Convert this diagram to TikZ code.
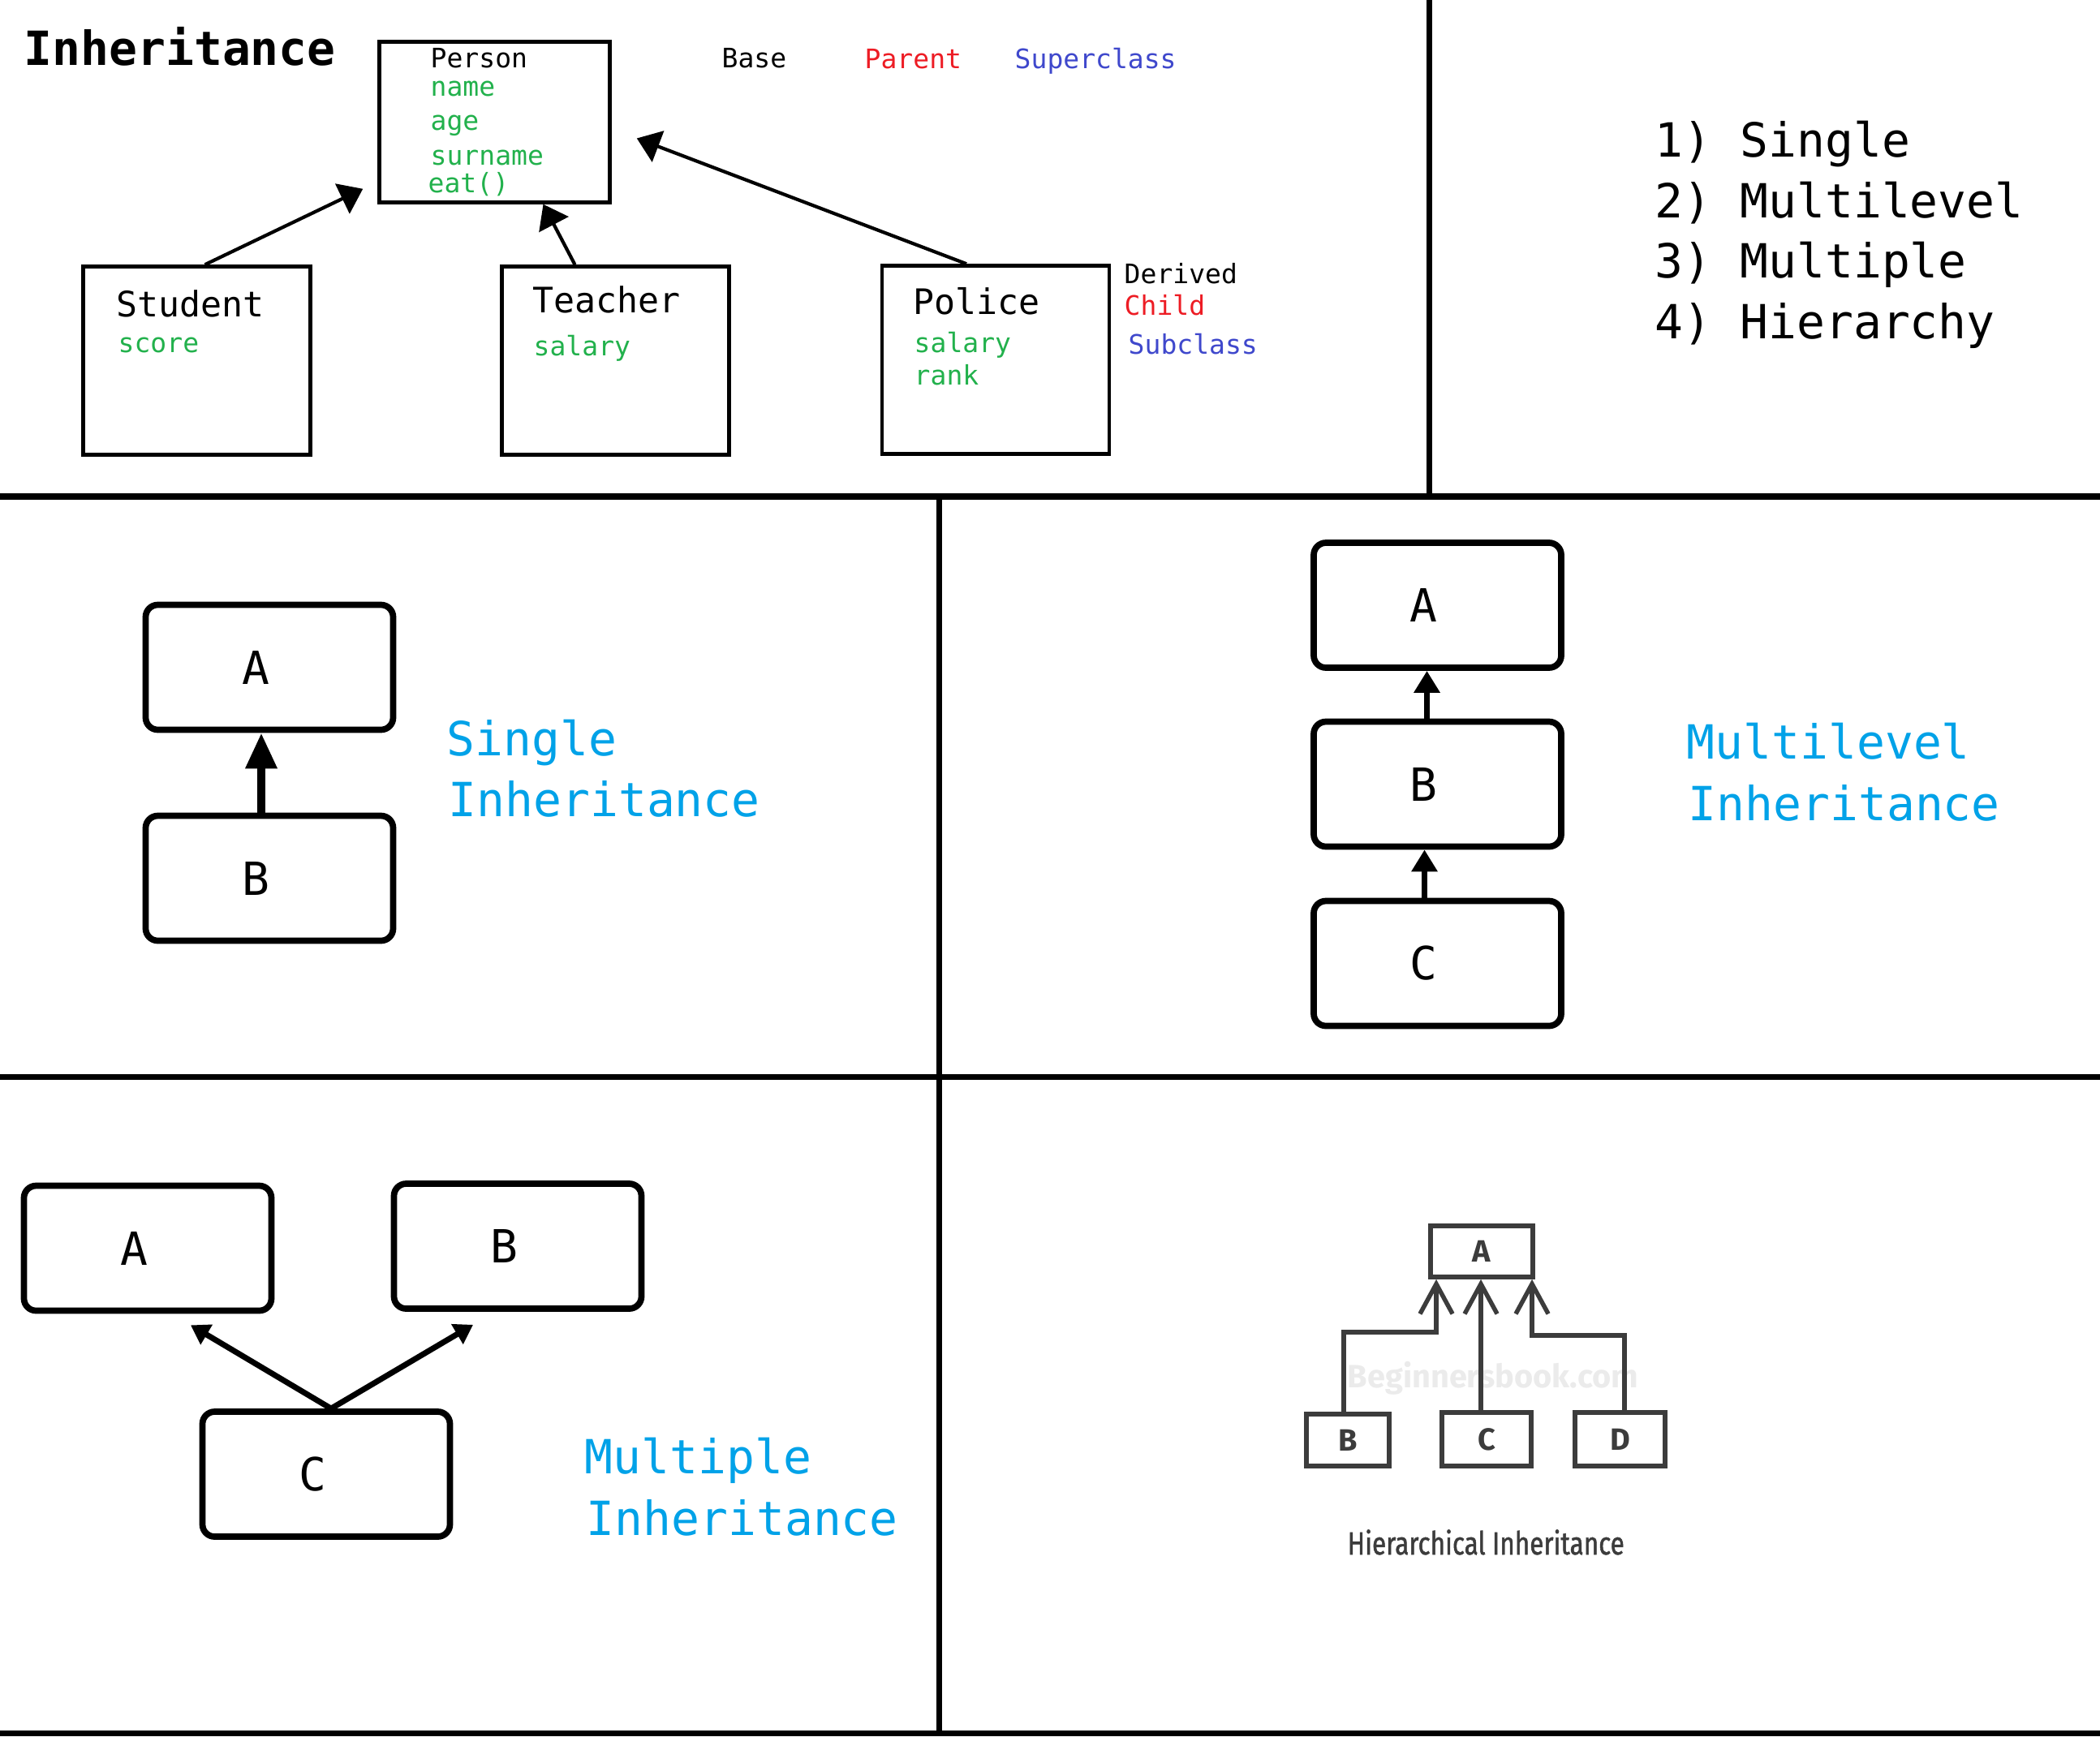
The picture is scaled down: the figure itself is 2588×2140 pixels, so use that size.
\documentclass[tikz,border=0pt]{standalone}
\usepackage{fontspec}
\setmainfont{DejaVu Sans Mono}
\newfontfamily\hierfont{Fira Sans}
\newfontfamily\hiercap[FakeStretch=0.8, FakeBold=1.2]{Fira Sans}
\usepackage{xcolor}
\usetikzlibrary{arrows.meta}
\usetikzlibrary{positioning}
\usetikzlibrary{calc}

\definecolor{paintgreen}{HTML}{22B14C}
\definecolor{paintred}{HTML}{ED1C24}
\definecolor{paintblue}{HTML}{3F48CC}
\definecolor{paintcyan}{HTML}{00A2E8}
\definecolor{hiergray}{HTML}{3C3C3C}
\definecolor{wmgray}{HTML}{EBEBEB}

\begin{document}
\begin{tikzpicture}[x=0.1mm, y=-0.1mm, line join=miter,
  txttitle/.style={anchor=base west, inner sep=0pt, font=\bfseries\fontsize{16.5}{19}\selectfont},
  txtbig/.style={anchor=base west, inner sep=0pt, font=\fontsize{16.5}{19}\selectfont},
  txtmid/.style={anchor=base west, inner sep=0pt, font=\fontsize{12.3}{14}\selectfont},
  txtsmall/.style={anchor=base west, inner sep=0pt, font=\fontsize{9.4}{11}\selectfont},
  classbox/.style={draw, line width=1.3pt, minimum width=28mm, minimum height=23.2mm},
  letter/.style={font=\fontsize{16}{19}\selectfont},
  roundbox/.style={draw, line width=2.2pt, rounded corners=1.5mm, minimum width=30.5mm,
    minimum height=15.4mm, label={[letter, xshift=-1.7mm]center:#1}},
  hbox/.style={draw=hiergray, line width=1.6pt, text=hiergray,
    font=\hierfont\bfseries\fontsize{10.8}{12}\selectfont},
  inh/.style={line width=1.2pt, -{Triangle[length=8pt, width=11.5pt]}},
  harrow/.style={draw=hiergray, line width=1.55pt, -{Straight Barb[length=10.5pt, width=11.4pt]}},
  frame/.style={line width=2pt}]
  \fill[white] (0,0) rectangle (2588,2140) ;
  \useasboundingbox (0,0) rectangle (2588,2140) ;
  %--- Frame
    \draw[frame] (1761,0) -- (1761,612) ;
    \draw[frame] (0,612) -- (2588,612) ;
    \draw[frame] (1157,612) -- (1157,2136) ;
    \draw[frame] (0,1327) -- (2588,1327) ;
    \draw[frame] (0,2136) -- (2588,2136) ;
  %--- Title
    \node[txttitle] (title) at (29,81) {Inheritance};
  %--- Person
    \node[classbox, minimum width=28.4mm, minimum height=19.8mm] (person) at (609.5,150.5) {};
    \node[txtsmall] (pTitle) at (530,84) {Person};
    \node[txtsmall, text=paintgreen] (pName) at (530,119) {name};
    \node[txtsmall, text=paintgreen] (pAge) at (530,161) {age};
    \node[txtsmall, text=paintgreen] (pSurname) at (530,203) {surname};
    \node[txtsmall, text=paintgreen] (pEat) at (527,237) {eat()};
    \node[txtsmall] (base) at (889,84) {Base};
    \node[txtsmall, text=paintred] (parent) at (1065,85) {Parent};
    \node[txtsmall, text=paintblue] (superclass) at (1250,85) {Superclass};
  %--- Student
    \node[classbox] (student) at (242.5,444.5) {};
    \node[txtmid] (sTitle) at (143,390) {Student};
    \node[txtsmall, text=paintgreen] (sScore) at (145,434) {score};
  %--- Teacher
    \node[classbox] (teacher) at (758.5,444.5) {};
    \node[txtmid] (tTitle) at (656,385) {Teacher};
    \node[txtsmall, text=paintgreen] (tSalary) at (657,438) {salary};
  %--- Police
    \node[classbox] (police) at (1227,443.5) {};
    \node[txtmid] (poTitle) at (1125,387) {Police};
    \node[txtsmall, text=paintgreen] (poSalary) at (1126,434) {salary};
    \node[txtsmall, text=paintgreen] (poRank) at (1126,474) {rank};
    \node[txtsmall] (derived) at (1385,349) {Derived};
    \node[txtsmall, text=paintred] (child) at (1385,388) {Child};
    \node[txtsmall, text=paintblue] (subclass) at (1390,436) {Subclass};
  %--- Arrows to Person
    \draw[inh] ([xshift=1mm]student.north) -- ([shift={(-18,-19)}]person.south west) ;
    \draw[inh] ([xshift=-5mm]teacher.north) -- ([xshift=6mm]person.south) ;
    \draw[inh] ([xshift=-3.6mm]police.north) -- ([shift={(31,20)}]person.east) ;
  %--- Types
    \node[txtbig] (type1) at (2039,194) {1) Single};
    \node[txtbig] (type2) at (2039,268) {2) Multilevel};
    \node[txtbig] (type3) at (2039,342) {3) Multiple};
    \node[txtbig] (type4) at (2039,417) {4) Hierarchy};
  %--- Single
    \node[roundbox=A] (sA) at (332,822.5) {};
    \node[roundbox=B] (sB) at (332,1082.5) {};
    \draw[line width=2.8pt, -{Triangle[length=12.5pt, width=10.5pt]}] ([xshift=-1mm]sB.north) -- ([xshift=-1mm]sA.south) ;
    \node[txtbig, text=paintcyan] (sgl1) at (550,931) {Single};
    \node[txtbig, text=paintcyan] (sgl2) at (552,1006) {Inheritance};
  %--- Multilevel
    \node[roundbox=A] (mlA) at (1771.5,746) {};
    \node[roundbox=B] (mlB) at (1771.5,966.5) {};
    \node[roundbox=C] (mlC) at (1771.5,1187.5) {};
    \draw[line width=2.2pt, -{Triangle[length=7.7pt, width=8.8pt]}] ([xshift=-1.3mm]mlB.north) -- ([xshift=-1.3mm]mlA.south) ;
    \draw[line width=2.2pt, -{Triangle[length=7.7pt, width=8.8pt]}] ([xshift=-1.6mm]mlC.north) -- ([xshift=-1.6mm]mlB.south) ;
    \node[txtbig, text=paintcyan] (mul1) at (2078,935) {Multilevel};
    \node[txtbig, text=paintcyan] (mul2) at (2080,1011) {Inheritance};
  %--- Multiple
    \node[roundbox=A] (mpA) at (182,1538.5) {};
    \node[roundbox=B] (mpB) at (638,1536) {};
    \node[roundbox=C] (mpC) at (402,1817) {};
    \draw[line width=2pt, -{Triangle[length=6.5pt, width=7.8pt]}] ([xshift=0.6mm]mpC.north) -- ([shift={(53,14)}]mpA.south) ;
    \draw[line width=2pt, -{Triangle[length=6.5pt, width=7.8pt]}] ([xshift=0.6mm]mpC.north) -- ([shift={(-55,16)}]mpB.south) ;
    \node[txtbig, text=paintcyan] (mup1) at (720,1816) {Multiple};
    \node[txtbig, text=paintcyan] (mup2) at (722,1892) {Inheritance};
  %--- Hierarchical
    \node[anchor=base west, inner sep=0pt, text=wmgray, font=\hierfont\bfseries\fontsize{11.3}{13}\selectfont] (wmark) at (1660,1710) {Beginnersbook.com};
    \node[hbox, minimum width=12.6mm, minimum height=6.3mm] (hA) at (1826,1542.5) {A};
    \node[hbox, minimum width=10.2mm, minimum height=6.4mm] (hB) at (1661,1775) {B};
    \node[hbox, minimum width=11mm, minimum height=6.6mm] (hC) at (1832,1774) {C};
    \node[hbox, minimum width=11.1mm, minimum height=6.6mm] (hD) at (1996.5,1774) {D};
    \draw[harrow] ([xshift=-0.5mm]hB.north) -- ++(0,-98) -| ([xshift=-5.6mm]hA.south) ;
    \draw[harrow] ([xshift=-0.7mm]hC.north) -- ([xshift=-0.7mm]hC.north |- hA.south) ;
    \draw[harrow] ([xshift=0.55mm]hD.north) -- ++(0,-92) -| ([xshift=6.2mm]hA.south) ;
    \node[anchor=base west, inner sep=0pt, text=hiergray, font=\hiercap\fontsize{11.2}{13}\selectfont] (hcap) at (1660,1916) {Hierarchical Inheritance};
\end{tikzpicture}
\end{document}
